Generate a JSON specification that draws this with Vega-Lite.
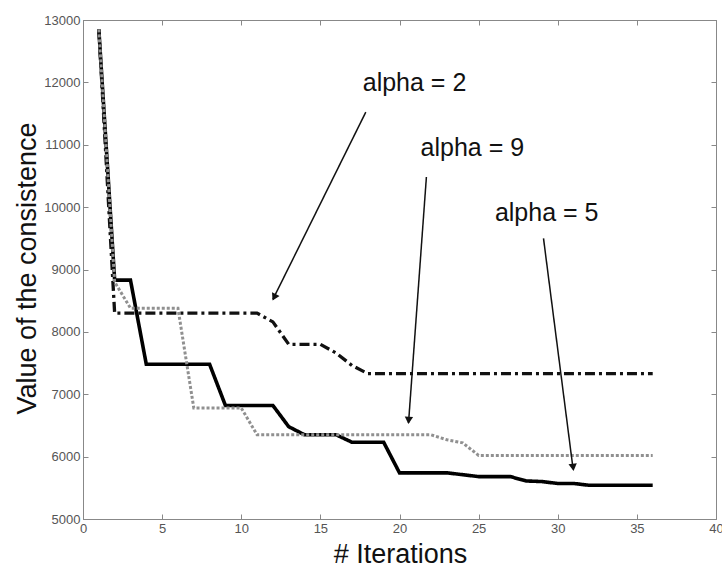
{
  "$schema": "https://vega.github.io/schema/vega-lite/v6.json",
  "width": 633,
  "height": 499,
  "autosize": "none",
  "padding": {"left": 83, "top": 20, "right": 6, "bottom": 49},
  "background": "white",
  "config": {
    "view": {"stroke": "#888", "strokeWidth": 1},
    "font": "Liberation Sans"
  },
  "datasets": {
    "series": [
      {"series": "alpha = 5", "x": 1, "y": 12850},
      {"series": "alpha = 5", "x": 2, "y": 8830},
      {"series": "alpha = 5", "x": 3, "y": 8830},
      {"series": "alpha = 5", "x": 4, "y": 7480},
      {"series": "alpha = 5", "x": 8, "y": 7480},
      {"series": "alpha = 5", "x": 9, "y": 6820},
      {"series": "alpha = 5", "x": 12, "y": 6820},
      {"series": "alpha = 5", "x": 13, "y": 6480},
      {"series": "alpha = 5", "x": 14, "y": 6350},
      {"series": "alpha = 5", "x": 16, "y": 6350},
      {"series": "alpha = 5", "x": 17, "y": 6230},
      {"series": "alpha = 5", "x": 19, "y": 6230},
      {"series": "alpha = 5", "x": 20, "y": 5740},
      {"series": "alpha = 5", "x": 23, "y": 5740},
      {"series": "alpha = 5", "x": 25, "y": 5680},
      {"series": "alpha = 5", "x": 27, "y": 5680},
      {"series": "alpha = 5", "x": 28, "y": 5610},
      {"series": "alpha = 5", "x": 29, "y": 5600},
      {"series": "alpha = 5", "x": 30, "y": 5570},
      {"series": "alpha = 5", "x": 31, "y": 5570},
      {"series": "alpha = 5", "x": 32, "y": 5540},
      {"series": "alpha = 5", "x": 36, "y": 5540},
      {"series": "alpha = 2", "x": 1, "y": 12850},
      {"series": "alpha = 2", "x": 2, "y": 8300},
      {"series": "alpha = 2", "x": 11, "y": 8300},
      {"series": "alpha = 2", "x": 12, "y": 8160},
      {"series": "alpha = 2", "x": 13, "y": 7800},
      {"series": "alpha = 2", "x": 15, "y": 7800},
      {"series": "alpha = 2", "x": 16, "y": 7660},
      {"series": "alpha = 2", "x": 17, "y": 7460},
      {"series": "alpha = 2", "x": 18, "y": 7330},
      {"series": "alpha = 2", "x": 36, "y": 7330},
      {"series": "alpha = 9", "x": 1, "y": 12850},
      {"series": "alpha = 9", "x": 2, "y": 8800},
      {"series": "alpha = 9", "x": 3, "y": 8380},
      {"series": "alpha = 9", "x": 6, "y": 8380},
      {"series": "alpha = 9", "x": 7, "y": 6780},
      {"series": "alpha = 9", "x": 10, "y": 6780},
      {"series": "alpha = 9", "x": 11, "y": 6350},
      {"series": "alpha = 9", "x": 22, "y": 6350},
      {"series": "alpha = 9", "x": 23, "y": 6270},
      {"series": "alpha = 9", "x": 24, "y": 6220},
      {"series": "alpha = 9", "x": 25, "y": 6020},
      {"series": "alpha = 9", "x": 36, "y": 6020}
    ],
    "notes": [
      {"label": "alpha = 2", "tx": 20.95, "ty": 11990, "x1": 17.87, "y1": 11524, "x2": 12.0, "y2": 8520, "hx": 12.08, "hy": 8554},
      {"label": "alpha = 9", "tx": 24.6, "ty": 10945, "x1": 21.7, "y1": 10482, "x2": 20.57, "y2": 6540, "hx": 20.58, "hy": 6581},
      {"label": "alpha = 5", "tx": 29.3, "ty": 9905, "x1": 29.1, "y1": 9498, "x2": 30.97, "y2": 5800, "hx": 30.97, "hy": 5829}
    ]
  },
  "layer": [
    {
      "data": {"name": "series"},
      "mark": {"type": "line", "strokeCap": "butt", "strokeJoin": "miter"},
      "encoding": {
        "x": {
          "field": "x", "type": "quantitative",
          "scale": {"domain": [0, 40], "nice": false},
          "axis": {
            "orient": "bottom", "values": [0, 5, 10, 15, 20, 25, 30, 35, 40],
            "grid": false, "tickSize": -5, "tickColor": "#888", "domainColor": "#888",
            "labelFont": "Liberation Sans", "labelFontSize": 13, "labelColor": "#555",
            "labelPadding": 8, "labelFlush": false,
            "title": "# Iterations", "titleFont": "Liberation Sans", "titleFontSize": 27,
            "titleFontWeight": "normal", "titleColor": "#111",
            "titleX": 317, "titleY": 43, "titleBaseline": "alphabetic", "titleAlign": "center"
          }
        },
        "y": {
          "field": "y", "type": "quantitative",
          "scale": {"domain": [5000, 13000], "nice": false, "zero": false},
          "axis": {
            "orient": "left", "values": [5000, 6000, 7000, 8000, 9000, 10000, 11000, 12000, 13000],
            "format": "d", "grid": false, "tickSize": -5, "tickColor": "#888", "domainColor": "#888",
            "labelFont": "Liberation Sans", "labelFontSize": 13, "labelColor": "#555",
            "labelPadding": 8, "labelFlush": false,
            "title": "Value of the consistence", "titleFont": "Liberation Sans", "titleFontSize": 27,
            "titleFontWeight": "normal", "titleColor": "#111",
            "titleAngle": 270, "titleX": -48, "titleY": 248, "titleBaseline": "alphabetic", "titleAlign": "center"
          }
        },
        "detail": {"field": "series"},
        "color": {
          "field": "series", "type": "nominal", "legend": null,
          "scale": {"domain": ["alpha = 9", "alpha = 2", "alpha = 5"], "range": ["#909090", "#111111", "#000000"]}
        },
        "strokeDash": {
          "field": "series", "type": "nominal", "legend": null,
          "scale": {"domain": ["alpha = 9", "alpha = 2", "alpha = 5"], "range": [[3, 2], [10, 4, 3, 4], [1, 0]]}
        },
        "strokeWidth": {
          "field": "series", "type": "nominal", "legend": null,
          "scale": {"domain": ["alpha = 9", "alpha = 2", "alpha = 5"], "range": [3, 3.6, 3.8]}
        }
      }
    },
    {
      "data": {"name": "series"},
      "mark": {"type": "line", "opacity": 0},
      "encoding": {
        "x": {
          "field": "x", "type": "quantitative",
          "axis": {
            "orient": "top", "values": [0, 5, 10, 15, 20, 25, 30, 35, 40],
            "labels": false, "grid": false, "tickSize": -5, "tickColor": "#888", "domainColor": "#888", "title": null
          }
        },
        "y": {
          "field": "y", "type": "quantitative",
          "axis": {
            "orient": "right", "values": [5000, 6000, 7000, 8000, 9000, 10000, 11000, 12000, 13000],
            "labels": false, "grid": false, "tickSize": -5, "tickColor": "#888", "domainColor": "#888", "title": null
          }
        },
        "detail": {"field": "series"}
      }
    },
    {
      "data": {"name": "notes"},
      "mark": {"type": "rule", "color": "#111", "strokeWidth": 1.5},
      "encoding": {
        "x": {"field": "x1", "type": "quantitative", "axis": null},
        "y": {"field": "y1", "type": "quantitative", "axis": null},
        "x2": {"field": "x2"},
        "y2": {"field": "y2"}
      }
    },
    {
      "data": {"name": "notes"},
      "transform": [{"filter": "datum.label == 'alpha = 2'"}],
      "mark": {"type": "point", "shape": "triangle-down", "filled": true, "color": "#111", "size": 70, "opacity": 1, "angle": 26},
      "encoding": {
        "x": {"field": "hx", "type": "quantitative", "axis": null},
        "y": {"field": "hy", "type": "quantitative", "axis": null}
      }
    },
    {
      "data": {"name": "notes"},
      "transform": [{"filter": "datum.label == 'alpha = 9'"}],
      "mark": {"type": "point", "shape": "triangle-down", "filled": true, "color": "#111", "size": 70, "opacity": 1, "angle": 4},
      "encoding": {
        "x": {"field": "hx", "type": "quantitative", "axis": null},
        "y": {"field": "hy", "type": "quantitative", "axis": null}
      }
    },
    {
      "data": {"name": "notes"},
      "transform": [{"filter": "datum.label == 'alpha = 5'"}],
      "mark": {"type": "point", "shape": "triangle-down", "filled": true, "color": "#111", "size": 70, "opacity": 1, "angle": 353},
      "encoding": {
        "x": {"field": "hx", "type": "quantitative", "axis": null},
        "y": {"field": "hy", "type": "quantitative", "axis": null}
      }
    },
    {
      "data": {"name": "notes"},
      "mark": {"type": "text", "font": "Liberation Sans", "fontSize": 25, "color": "#111", "align": "center", "baseline": "middle"},
      "encoding": {
        "x": {"field": "tx", "type": "quantitative", "axis": null},
        "y": {"field": "ty", "type": "quantitative", "axis": null},
        "text": {"field": "label"}
      }
    }
  ],
  "resolve": {"axis": {"x": "independent", "y": "independent"}}
}
